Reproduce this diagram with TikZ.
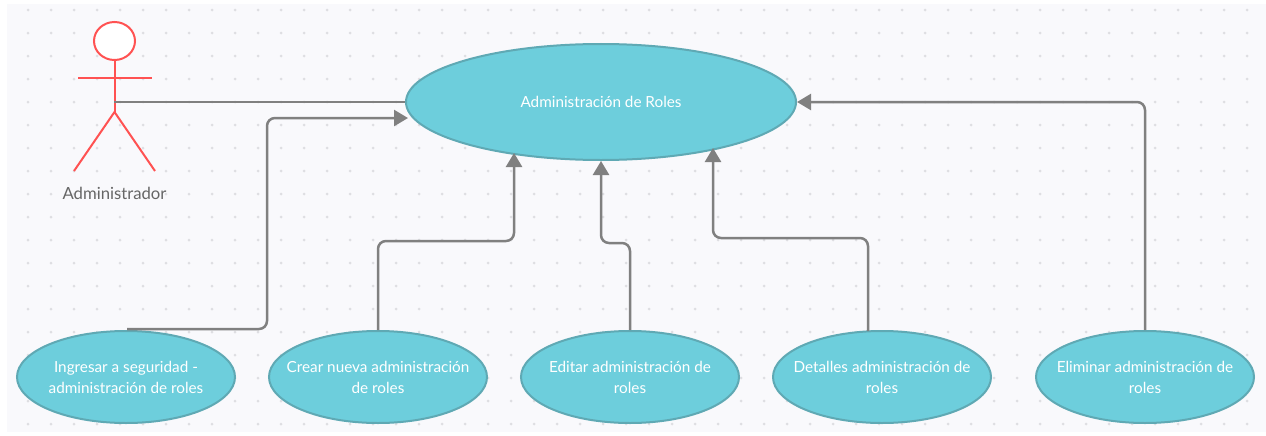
\documentclass[tikz,border=0pt]{standalone}
\usepackage{fontspec}
\setmainfont{Lato}
\usepackage{xcolor}
\usetikzlibrary{shapes.geometric,arrows.meta}
\definecolor{panelColor}{HTML}{F9F9FC}
\definecolor{dotColor}{HTML}{DEDEE2}
\definecolor{caseColor}{HTML}{6DCEDC}
\definecolor{caseBorder}{HTML}{5FA9B4}
\definecolor{lineColor}{HTML}{808080}
\definecolor{actorColor}{HTML}{FF5252}
\tikzset{
    usecase/.style={ellipse, draw=caseBorder, fill=caseColor, line width=0.4mm, inner xsep=-9mm, inner ysep=-4mm,
        minimum width=43.6mm, minimum height=18.4mm, text=white, align=center,
        font=\fontsize{8.7}{12}\selectfont},
    actorline/.style={draw=actorColor, line width=0.4mm},
    conn/.style={draw=lineColor, line width=0.5mm},
    connarrow/.style={conn, rounded corners=1.6mm, -{Triangle[length=2.8mm,width=3.2mm]}}
}

\begin{document}
\begin{tikzpicture}[x=0.2mm,y=-0.2mm]
    \useasboundingbox (0,0) rectangle (1266,435);
    \fill[white] (0,0) rectangle (1266,435);
    \fill[panelColor] (7,4) rectangle (1266,432);
    \foreach \x in {28,51,...,1260}
        \foreach \y in {10,33,...,430}
            \fill[dotColor] (\x,\y) circle (0.3mm);

    \node[usecase, minimum width=78mm, minimum height=23.2mm] (admin) at (601,102) {Administración de Roles};
    \node[usecase] (ingresar) at (126,377) {Ingresar a seguridad -\\administración de roles};
    \node[usecase] (crear) at (378,377) {Crear nueva administración\\de roles};
    \node[usecase] (editar) at (630,377) {Editar administración de\\roles};
    \node[usecase] (detalles) at (882,377) {Detalles administración de\\roles};
    \node[usecase] (eliminar) at (1145,377) {Eliminar administración de\\roles};

    \node[ellipse, actorline, fill=white, minimum width=8.2mm, minimum height=7.6mm, inner sep=0pt] (head) at (114.5,41) {};
    \coordinate (hip) at (114.5,112);
    \coordinate (body) at (114,102);
    \draw[actorline] (head.south) -- (hip);
    \draw[actorline] (78,78) -- (152,78);
    \draw[actorline] (74,171) -- (hip) -- (155,171);
    \node[text=black!60, font=\fontsize{9.5}{12}\selectfont] (actorname) at (114.5,193) {Administrador};

    \draw[conn] (body) -- (admin.west);
    \coordinate (ingresarstart) at (127,329);
    \coordinate (ingresarend) at (408,118);
    \coordinate (crearend) at (514,153);
    \coordinate (detallesstart) at (868,331);
    \coordinate (detallesend) at (713,148);
    \draw[connarrow] (ingresarstart) -- (267,329) -- (267,118) -- (ingresarend);
    \draw[connarrow] (crear.north) -- (378,241) -- (514,241) -- (crearend);
    \draw[connarrow] (editar.north) -- (630,243) -- (601,243) -- (admin.south);
    \draw[connarrow] (detallesstart) -- (868,238) -- (713,238) -- (detallesend);
    \draw[connarrow] (eliminar.north) -- (1145,102) -- (admin.east);
\end{tikzpicture}
\end{document}
